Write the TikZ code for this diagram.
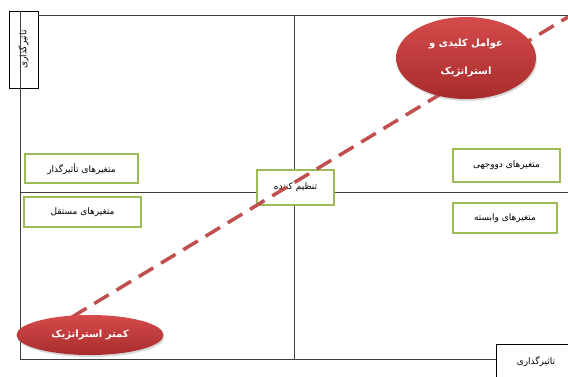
\documentclass[tikz,border=0pt]{standalone}
\usepackage{fontspec}
\newfontfamily\farsi[Script=Arabic]{DejaVu Sans}
\TeXXeTstate=1
\usetikzlibrary{shapes.geometric,shadows}

\definecolor{keyred}{HTML}{C0504D}
\definecolor{ellredlt}{HTML}{D44B4B}
\definecolor{ellreddk}{HTML}{A82C2C}
\definecolor{vargreen}{HTML}{9BBB59}
\definecolor{axisgray}{HTML}{3F3F3F}

\newcommand{\fa}[1]{{\farsi\beginR #1\endR}}

\tikzset{
  varbox/.style = {
    rectangle,                    % plain box
    draw           = vargreen,    % border
    line width     = 2pt,         % border width
    fill           = white,
    minimum width  = 113pt,       % width of box
    minimum height = 29pt,        % height of box
    inner sep      = 1pt,
    font           = \fontsize{9}{11}\selectfont,
    text           = black,       % inner label color
  },
  axisbox/.style = {
    rectangle,
    draw           = black,
    line width     = .8pt,
    fill           = white,
    inner sep      = 1pt,
    font           = \fontsize{9}{11}\selectfont,
  },
  stratell/.style = {
    ellipse,
    draw           = none,
    top color      = ellredlt,    % shading
    bottom color   = ellreddk,
    drop shadow    = {opacity=.3, shadow xshift=1pt, shadow yshift=-2pt},
    inner sep      = 0pt,
    align          = center,
    font           = \fontsize{10}{28}\selectfont\bfseries,
    text           = white,
  },
  quadline/.style = {draw=axisgray, line width=1pt},
  keyline/.style  = {draw=keyred, line width=3.5pt, dash pattern=on 17pt off 9pt},
}

\begin{document}
\begin{tikzpicture}[x=1pt, y=-1pt]
\useasboundingbox (0,0) rectangle (568,376);

% axis labels
\node at (23.5, 49.5) [axisbox, minimum width=77pt, minimum height=29pt, rotate=90]
  (yaxis) {\fa{تاثیرگذاری}};
\node at (536, 362) [axisbox, minimum width=80pt, minimum height=36pt]
  (xaxis) {\fa{تاثیرگذاری}};

% quadrant frame
\coordinate (corner)  at (20.5, 359);
\coordinate (topend)  at (568, 15);
\coordinate (midtop)  at (294, 15);
\coordinate (midbot)  at (294, 359);
\coordinate (leftmid) at (20.5, 192);
\coordinate (rightmid)at (568, 192);

\draw [quadline] (yaxis.south |- topend) -- (topend);
\draw [quadline] (corner |- yaxis.east) -- (corner) -- (xaxis.west |- corner);
\draw [quadline] (midtop) -- (midbot);
\draw [quadline] (leftmid) -- (rightmid);

% variable boxes
\node at (81.5, 168.5) [varbox]                    (infl)   {\fa{متغیرهای تأثیرگذار}};
\node at (82.5, 212)   [varbox, minimum width=117pt, minimum height=30pt]
  (indep)  {\fa{متغیرهای مستقل}};
\node at (295.5, 187.5)[varbox, minimum width=77pt, minimum height=35pt]
  (regul)  {\fa{تنظیم کننده}};
\node at (506.5, 165.5)[varbox, minimum width=107pt, minimum height=33pt]
  (dual)   {\fa{متغیرهای دووجهی}};
\node at (505, 218)    [varbox, minimum width=104pt, minimum height=30pt]
  (depend) {\fa{متغیرهای وابسته}};

% strategic diagonal
\coordinate (dashstart) at (72, 317);
\coordinate (dashend)   at (568, 17);
\draw [keyline] (dashstart) -- (dashend);

\node at (466, 58) [stratell, minimum width=140pt, minimum height=82pt]
  (keystrat) {\fa{عوامل کلیدی و}\\\fa{استراتژیک}};
\node at (90, 335) [stratell, minimum width=147pt, minimum height=40pt]
  (lowstrat) {\fa{کمتر استراتژیک}};
\end{tikzpicture}
\end{document}
